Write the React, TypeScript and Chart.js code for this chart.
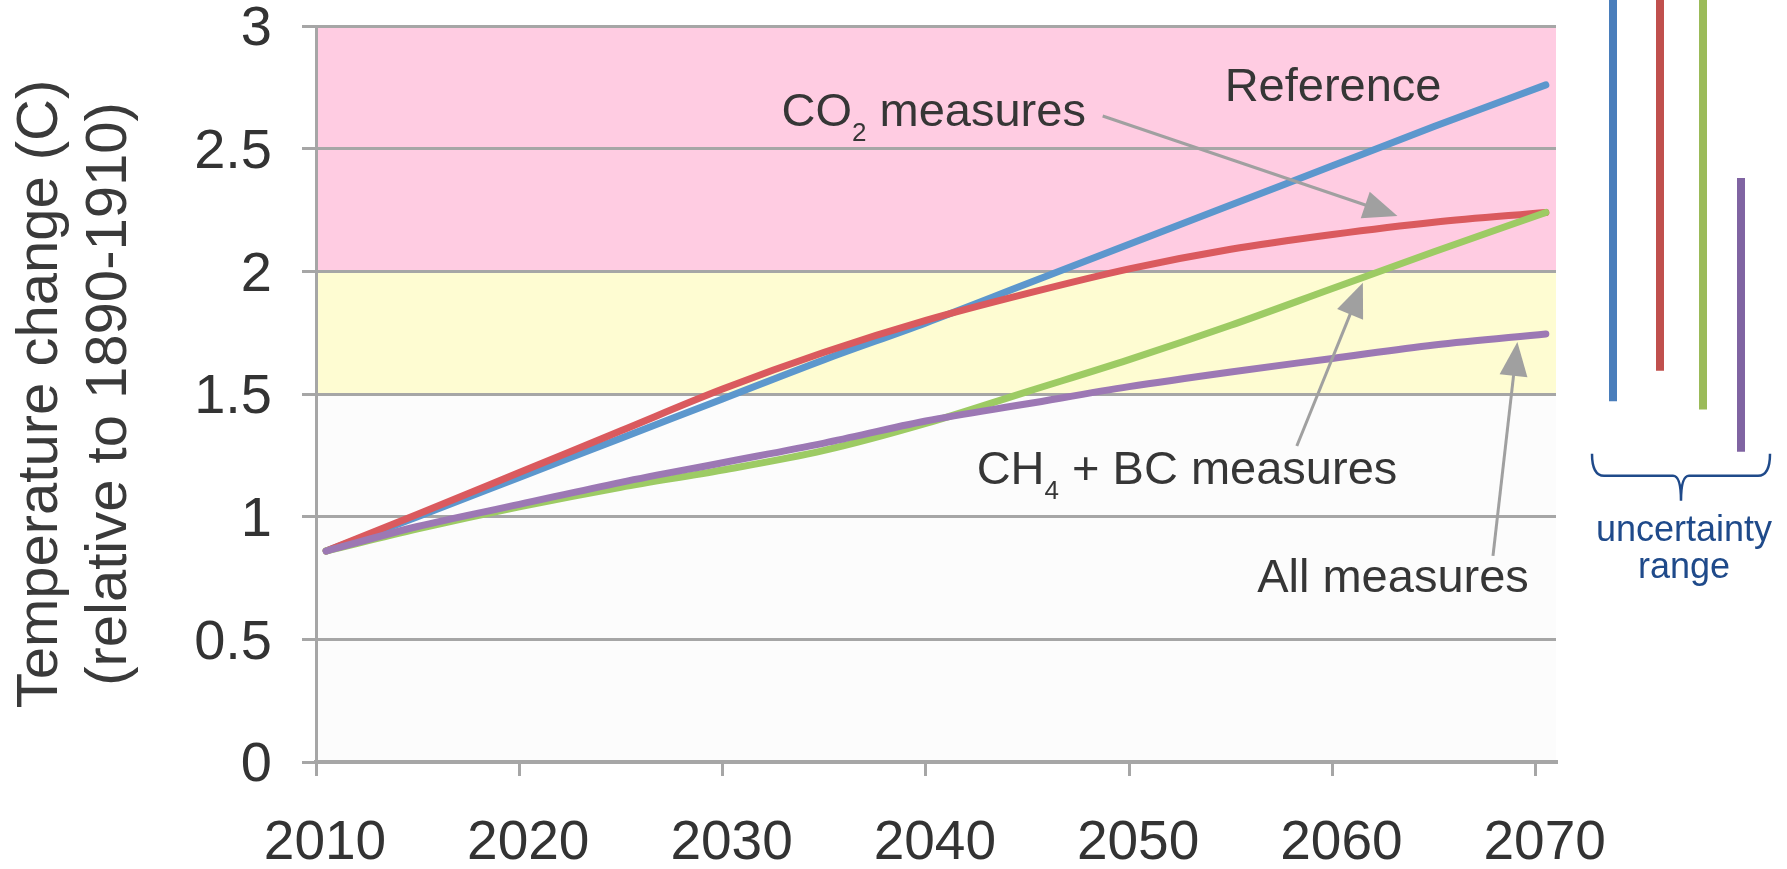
import React, { useEffect, useRef } from 'react';
import { Chart, registerables } from 'chart.js';

Chart.register(...registerables);

// ---- data ----
const years = [2010.5, 2015, 2020, 2025, 2030, 2035, 2040, 2045, 2050, 2055, 2060, 2065, 2070.5];
const referenceValues = [0.86, 1.0, 1.16, 1.32, 1.48, 1.64, 1.79, 1.95, 2.11, 2.27, 2.43, 2.59, 2.76];
const co2Values = [0.86, 1.01, 1.18, 1.35, 1.52, 1.67, 1.8, 1.91, 2.01, 2.09, 2.15, 2.2, 2.24];
const ch4bcValues = [0.86, 0.95, 1.04, 1.12, 1.19, 1.27, 1.38, 1.51, 1.64, 1.78, 1.93, 2.08, 2.24];
const allValues = [0.86, 0.96, 1.05, 1.14, 1.22, 1.3, 1.39, 1.46, 1.53, 1.59, 1.645, 1.7, 1.745];

const xTickYears = [2010, 2020, 2030, 2040, 2050, 2060, 2070];
const yTickValues = [0, 0.5, 1, 1.5, 2, 2.5, 3];

const bandFrom = [2, 1.5, 0];
const bandTo = [3, 2, 1.5];

// uncertainty ranges (Reference, CO2, CH4+BC, All)
const uncertaintyLow = [1.47, 1.595, 1.437, 1.265];
const uncertaintyHigh = [3.2, 3.2, 3.2, 2.38];

// annotation labels
const labelTexts = [
  [{ t: 'Reference' }],
  [{ t: 'CO' }, { t: '2', sub: true }, { t: ' measures' }],
  [{ t: 'CH' }, { t: '4', sub: true }, { t: ' + BC measures' }],
  [{ t: 'All measures' }],
];
const labelYears = [2054.7, 2032.9, 2042.5, 2056.3];
const labelValues = [2.695, 2.593, 1.133, 0.693];

// arrows (CO2, CH4+BC, All)
const arrowFromYears = [2048.7, 2058.25, 2067.9];
const arrowFromValues = [2.633, 1.288, 0.84];
const arrowToYears = [2063.2, 2061.5, 2069.1];
const arrowToValues = [2.226, 1.953, 1.712];

// ---- styles ----
const FONT = '"Liberation Sans", Arial, Helvetica, sans-serif';
const lineColors = ['#9c78b4', '#9dcb64', '#da5a5e', '#5c97cd']; // All, CH4, CO2, Ref
const bandColors = ['#ffcce2', '#fefcd2', '#fcfcfc'];
const barColors = ['#4a7ebb', '#c0504d', '#9bbb59', '#8064a2'];
const barOffsets = [57, 104, 147, 185];
const gridColor = '#a6a6a6';
const textColor = '#363636';
const braceColor = '#1f4a8a';

export default function App() {
  const canvasRef = useRef<HTMLCanvasElement>(null);

  useEffect(() => {
    const canvas = canvasRef.current;
    if (!canvas) return;

    const bandPlugin = {
      id: 'bands',
      beforeDraw(chart: any) {
        const { ctx, chartArea, scales } = chart;
        const y = scales.y;
        ctx.save();
        for (let i = 0; i < bandFrom.length; i++) {
          const top = y.getPixelForValue(bandTo[i]);
          const bottom = y.getPixelForValue(bandFrom[i]);
          ctx.fillStyle = bandColors[i];
          ctx.fillRect(chartArea.left, top, chartArea.right - chartArea.left, bottom - top);
        }
        ctx.restore();
      },
    };

    const overlayPlugin = {
      id: 'overlay',
      afterDraw(chart: any) {
        const { ctx, chartArea, scales } = chart;
        const x = scales.x;
        const y = scales.y;
        ctx.save();

        // arrows
        ctx.strokeStyle = '#a0a0a0';
        ctx.fillStyle = '#a0a0a0';
        ctx.lineWidth = 3;
        for (let i = 0; i < arrowFromYears.length; i++) {
          const x1 = x.getPixelForValue(arrowFromYears[i]);
          const y1 = y.getPixelForValue(arrowFromValues[i]);
          const x2 = x.getPixelForValue(arrowToYears[i]);
          const y2 = y.getPixelForValue(arrowToValues[i]);
          const dx = x2 - x1, dy = y2 - y1;
          const len = Math.hypot(dx, dy);
          const ux = dx / len, uy = dy / len;
          const headLen = 34, headHalf = 14;
          const bx = x2 - ux * headLen, by = y2 - uy * headLen;
          ctx.beginPath();
          ctx.moveTo(x1, y1);
          ctx.lineTo(bx + ux * 4, by + uy * 4);
          ctx.stroke();
          ctx.beginPath();
          ctx.moveTo(x2, y2);
          ctx.lineTo(bx - uy * headHalf, by + ux * headHalf);
          ctx.lineTo(bx + uy * headHalf, by - ux * headHalf);
          ctx.closePath();
          ctx.fill();
        }

        // labels
        ctx.fillStyle = textColor;
        ctx.textBaseline = 'alphabetic';
        ctx.textAlign = 'left';
        for (let i = 0; i < labelTexts.length; i++) {
          let px = x.getPixelForValue(labelYears[i]);
          const py = y.getPixelForValue(labelValues[i]);
          for (const part of labelTexts[i] as any[]) {
            ctx.font = part.sub ? `26px ${FONT}` : `47px ${FONT}`;
            ctx.fillText(part.t, px, part.sub ? py + 15 : py);
            px += ctx.measureText(part.t).width;
          }
        }

        // uncertainty bars
        ctx.lineWidth = 8;
        ctx.lineCap = 'butt';
        for (let i = 0; i < uncertaintyLow.length; i++) {
          const bx = chartArea.right + barOffsets[i];
          ctx.strokeStyle = barColors[i];
          ctx.beginPath();
          ctx.moveTo(bx, y.getPixelForValue(uncertaintyHigh[i]));
          ctx.lineTo(bx, y.getPixelForValue(uncertaintyLow[i]));
          ctx.stroke();
        }

        // brace
        const T = y.getPixelForValue(Math.min(...uncertaintyLow)) + 2;
        const M = T + 22;
        const B = T + 47;
        const L = chartArea.right + 36;
        const R = chartArea.right + 214;
        const C = chartArea.right + 125;
        ctx.strokeStyle = braceColor;
        ctx.lineWidth = 2.5;
        ctx.beginPath();
        ctx.moveTo(L, T);
        ctx.quadraticCurveTo(L, M, L + 12, M);
        ctx.lineTo(C - 8, M);
        ctx.quadraticCurveTo(C, M, C, B);
        ctx.moveTo(C, B);
        ctx.quadraticCurveTo(C, M, C + 8, M);
        ctx.lineTo(R - 12, M);
        ctx.quadraticCurveTo(R, M, R, T);
        ctx.stroke();

        ctx.fillStyle = braceColor;
        ctx.font = `36px ${FONT}`;
        ctx.textAlign = 'center';
        ctx.fillText('uncertainty', C + 3, T + 87);
        ctx.fillText('range', C + 3, T + 124);

        ctx.restore();
      },
    };

    const mk = (label: string, values: number[], color: string) => ({
      label,
      data: years.map((yr, i) => ({ x: yr, y: values[i] })),
      borderColor: color,
      backgroundColor: color,
      borderWidth: 7,
      borderCapStyle: 'round' as const,
      borderJoinStyle: 'round' as const,
      pointRadius: 0,
      cubicInterpolationMode: 'monotone' as const,
      fill: false,
    });

    const chart = new Chart(canvas, {
      type: 'line',
      data: {
        datasets: [
          mk('All measures', allValues, lineColors[0]),
          mk('CH4 + BC measures', ch4bcValues, lineColors[1]),
          mk('CO2 measures', co2Values, lineColors[2]),
          mk('Reference', referenceValues, lineColors[3]),
        ],
      },
      options: {
        responsive: false,
        animation: false,
        events: [],
        layout: { padding: { top: 26, right: 231, left: 0, bottom: 0 } },
        plugins: { legend: { display: false }, tooltip: { enabled: false } },
        scales: {
          x: {
            type: 'linear',
            min: 2010,
            max: 2071,
            afterBuildTicks: (scale: any) => {
              scale.ticks = xTickYears.map((v) => ({ value: v }));
            },
            afterFit: (scale: any) => {
              scale.height = 107;
              scale.paddingLeft = 0;
              scale.paddingRight = 0;
            },
            ticks: {
              callback: (v: any) => String(v),
              color: '#333333',
              font: { family: FONT, size: 55 },
              padding: 35,
              labelOffset: 9,
              maxRotation: 0,
              autoSkip: false,
            },
            grid: {
              drawOnChartArea: false,
              drawTicks: true,
              tickLength: 14,
              color: gridColor,
              lineWidth: 3,
            },
            border: { display: true, color: gridColor, width: 4 },
          },
          y: {
            type: 'linear',
            min: 0,
            max: 3,
            afterBuildTicks: (scale: any) => {
              scale.ticks = yTickValues.map((v) => ({ value: v }));
            },
            afterFit: (scale: any) => {
              scale.width = 316;
              scale.paddingTop = 0;
              scale.paddingBottom = 0;
            },
            ticks: {
              callback: (v: any) => String(v),
              color: '#333333',
              font: { family: FONT, size: 56, lineHeight: 0.9 },
              padding: 30,
              labelOffset: 4,
            },
            grid: {
              drawOnChartArea: true,
              drawTicks: true,
              tickLength: 14,
              color: gridColor,
              lineWidth: 3,
            },
            border: { display: true, color: gridColor, width: 3 },
            title: {
              display: true,
              text: ['Temperature change (C)', '(relative to 1890-1910)'],
              color: '#3a3a3a',
              font: { family: FONT, size: 58, lineHeight: 1.19 },
              padding: { top: 6, bottom: 0 },
            },
          },
        },
      },
      plugins: [bandPlugin, overlayPlugin],
    } as any);

    return () => chart.destroy();
  }, []);

  return (
    <canvas
      ref={canvasRef}
      width={1787}
      height={869}
      style={{ position: 'absolute', left: 0, top: 0, display: 'block' }}
    />
  );
}
